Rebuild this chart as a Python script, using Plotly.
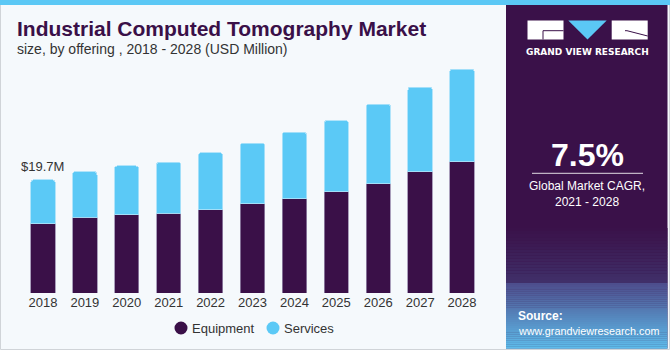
import plotly.graph_objects as go

years = ["2018", "2019", "2020", "2021", "2022", "2023", "2024", "2025", "2026", "2027", "2028"]
equipment = [12.03, 13.19, 13.65, 13.89, 14.52, 15.51, 16.44, 17.66, 19.05, 21.15, 22.84]
services = [7.67, 7.95, 8.49, 8.89, 9.94, 10.58, 11.57, 12.38, 13.84, 14.71, 16.16]
series_names = ["Equipment", "Services"]

EQ_COLOR = "#3A1048"
SV_COLOR = "#5BC9F6"
BG = "#F5F9FC"
PANEL = "#3A1149"

W, H = 670, 350
L, R, T, B = 22, 187, 60, 57
PW = W - L - R
PH = H - T - B


def px(x):
    return (x - L) / PW


def py(y):
    return (H - B - y) / PH


fig = go.Figure()
fig.add_trace(go.Bar(x=years, y=equipment, name=series_names[0], marker=dict(color=EQ_COLOR, line=dict(color="rgba(150,135,170,0.8)", width=1)), showlegend=False))
fig.add_trace(go.Bar(x=years, y=services, name=series_names[1], marker=dict(color=SV_COLOR, line=dict(color="rgba(170,225,250,0.9)", width=1)), showlegend=False))

shapes = []
# outer border
shapes.append(dict(type="rect", xref="paper", yref="paper", x0=px(0.5), x1=px(669.5), y0=py(349.5), y1=py(0), line=dict(color="#D0D4D8", width=1), fillcolor="rgba(0,0,0,0)", layer="above"))
# right panel
shapes.append(dict(type="rect", xref="paper", yref="paper", x0=px(506), x1=px(667.5), y0=py(348.5), y1=py(5), line=dict(width=0), fillcolor=PANEL, layer="above"))


def lerp(c1, c2, t):
    a = [int(c1[i:i + 2], 16) for i in (1, 3, 5)]
    b = [int(c2[i:i + 2], 16) for i in (1, 3, 5)]
    return "rgb(%d,%d,%d)" % tuple(round(a[k] + (b[k] - a[k]) * t) for k in range(3))


# gradient strips
n1 = 18
y_a, y_b = 228.0, 283.0
for i in range(n1):
    y0 = y_a + (y_b - y_a) * i / n1
    y1 = y_a + (y_b - y_a) * (i + 1) / n1
    shapes.append(dict(type="rect", xref="paper", yref="paper", x0=px(506), x1=px(667.5), y0=py(y1), y1=py(y0), line=dict(width=0), fillcolor=lerp(PANEL, "#40306A", (i + 0.5) / n1), layer="above"))
n2 = 32
y_a, y_b = 283.0, 348.5
for i in range(n2):
    y0 = y_a + (y_b - y_a) * i / n2
    y1 = y_a + (y_b - y_a) * (i + 1) / n2
    shapes.append(dict(type="rect", xref="paper", yref="paper", x0=px(506), x1=px(667.5), y0=py(y1 + 0.3), y1=py(y0), line=dict(width=0), fillcolor=lerp("#4D4C8C", "#5EBDEB", (i + 0.5) / n2), layer="above"))

# top stripe
shapes.append(dict(type="rect", xref="paper", yref="paper", x0=px(0), x1=px(670), y0=py(5), y1=py(0), line=dict(width=0), fillcolor="#5BC8F5", layer="above"))

# logo
shapes.append(dict(type="rect", xref="paper", yref="paper", x0=px(527.5), x1=px(563.5), y0=py(39.5), y1=py(20.5), line=dict(width=0), fillcolor="white", layer="above"))
shapes.append(dict(type="path", xref="paper", yref="paper", path="M %f,%f L %f,%f L %f,%f Z" % (px(568.3), py(20.5), px(606.7), py(20.5), px(587.5), py(39.5)), line=dict(width=0), fillcolor="#5BC8F5", layer="above"))
shapes.append(dict(type="rect", xref="paper", yref="paper", x0=px(611.7), x1=px(647.7), y0=py(39.5), y1=py(20.5), line=dict(width=0), fillcolor="white", layer="above"))
shapes.append(dict(type="path", xref="paper", yref="paper", path="M %f,%f L %f,%f L %f,%f" % (px(543), py(39.5), px(543), py(30.7), px(563.5), py(30.7)), line=dict(color=PANEL, width=1), layer="above"))
shapes.append(dict(type="path", xref="paper", yref="paper", path="M %f,%f L %f,%f L %f,%f" % (px(625), py(30.7), px(627), py(30.7), px(647.7), py(36)), line=dict(color=PANEL, width=1), layer="above"))
# divider line under CAGR
shapes.append(dict(type="line", xref="paper", yref="paper", x0=px(532), x1=px(643), y0=py(173.3), y1=py(173.3), line=dict(color="rgba(255,255,255,0.85)", width=1), layer="above"))

# legend markers
for cx, col in ((181, EQ_COLOR), (273, SV_COLOR)):
    shapes.append(dict(type="circle", xref="paper", yref="paper", x0=px(cx - 6.5), x1=px(cx + 6.5), y0=py(328 + 6.5), y1=py(328 - 6.5), line=dict(width=0), fillcolor=col, layer="above"))

ann = []


def text(t, x, y, size, color, xanchor="left", bold=False, family="Liberation Sans, Arial, sans-serif"):
    ann.append(dict(text=("<b>%s</b>" % t) if bold else t, x=px(x), y=py(y), xref="paper", yref="paper", xanchor=xanchor, yanchor="middle", showarrow=False, font=dict(size=size, color=color, family=family)))


text("Industrial Computed Tomography Market", 15, 29, 21, "#3A1048", bold=True)
text("size, by offering , 2018 - 2028 (USD Million)", 15, 49, 14, "#333333")
text("GRAND VIEW RESEARCH", 587.5, 51.5, 9, "white", xanchor="center", bold=True, family="DejaVu Sans, sans-serif")
text("7.5%", 587, 155, 32, "white", xanchor="center", bold=True)
text("Global Market CAGR,", 587, 186, 12, "white", xanchor="center")
text("2021 - 2028", 587, 202, 12, "white", xanchor="center")
text("Source:", 516, 316, 12, "white", bold=True)
text("www.grandviewresearch.com", 516, 331, 10.8, "white")
text(series_names[0], 190, 328, 13, "#333333")
text(series_names[1], 282, 328, 13, "#333333")

total0 = equipment[0] + services[0]
ann.append(dict(text="$%.1fM" % total0, x=0, y=total0, xref="x", yref="y", xanchor="center", yanchor="bottom", yshift=4, showarrow=False, font=dict(size=13, color="#333333", family="Liberation Sans, Arial, sans-serif")))

fig.update_layout(
    width=W, height=H,
    margin=dict(l=L, r=R, t=T, b=B),
    barmode="stack", bargap=0.42, barcornerradius=3,
    paper_bgcolor=BG, plot_bgcolor=BG,
    showlegend=False,
    font=dict(family="Liberation Sans, Arial, sans-serif", color="#333333", size=13),
    xaxis=dict(type="category", range=[-0.5, 10.5], showgrid=False, showline=False, zeroline=False, ticks="", tickfont=dict(size=13, color="#333333"), ticklabelstandoff=0),
    yaxis=dict(range=[0, 40.6], showticklabels=False, showgrid=False, showline=False, zeroline=False, ticks=""),
    shapes=shapes, annotations=ann,
)

fig.write_html("out.html")
